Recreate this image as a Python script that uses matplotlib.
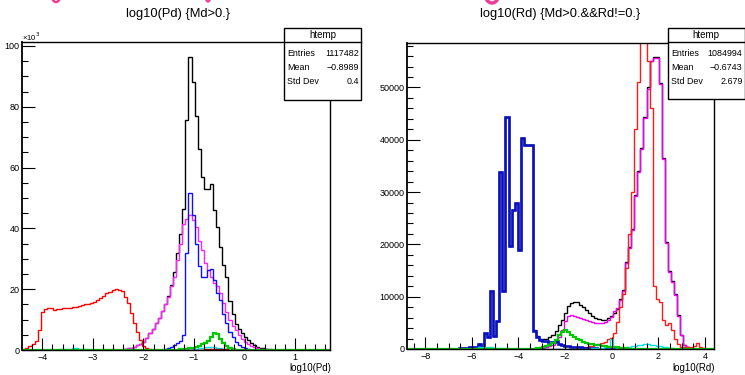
import numpy as np
import matplotlib
matplotlib.use('Agg')
import matplotlib.pyplot as plt
from matplotlib.patches import Rectangle, Ellipse
from matplotlib.lines import Line2D
from matplotlib.ticker import MultipleLocator, FuncFormatter

plt.rcParams['font.family'] = ['Liberation Sans', 'DejaVu Sans']

W, H = 745, 375
NBINS = 100

# ---- left panel: log10(Pd), 100 bins, counts in thousands ----
left_range = (-4.395, 1.69)
left_black = (33, [0.3, 0.5, 0.8, 1.1, 1.5, 2.0, 2.7, 3.8, 5.5, 7.0,
                   8.8, 10.5, 12.8, 15.0, 17.6, 21.5, 25.5, 32.0, 38.0, 46.5,
                   75.7, 96.5, 88.0, 77.0, 66.0, 57.0, 53.0, 53.0, 54.5, 46.0,
                   40.5, 34.0, 28.0, 24.0, 16.0, 12.0, 8.5, 7.0, 5.5, 4.2,
                   3.2, 2.2, 1.5, 1.0, 0.7, 0.5, 0.3, 0.2, 0.1])
left_magenta = (33, [0.3, 0.5, 0.8, 1.1, 1.5, 2.0, 2.7, 3.8, 5.5, 7.0,
                     8.8, 10.5, 12.8, 15.0, 17.5, 21.0, 24.0, 29.5, 35.0, 41.5,
                     43.0, 44.4, 42.8, 40.6, 36.0, 33.0, 28.5, 26.3, 24.1, 22.0,
                     21.0, 18.6, 15.3, 12.5, 10.0, 8.0, 6.5, 5.0, 3.5, 2.7,
                     2.0, 1.4, 1.0, 0.6, 0.4, 0.3, 0.2, 0.1])
left_blue = (46, [0.2, 0.5, 1.0, 1.5, 2.2, 3.0, 5.0, 32.0, 51.5, 44.5,
                  35.0, 27.5, 24.0, 24.0, 26.3, 26.8, 23.0, 18.7, 16.4, 12.0,
                  8.8, 6.0, 4.4, 2.7, 1.6, 1.0, 0.5, 0.2])
left_red = (0, [0.3, 0.8, 1.3, 2.0, 3.0, 6.5, 12.5, 13.6, 13.8, 13.7,
                13.2, 13.4, 13.6, 13.7, 13.8, 13.9, 14.1, 14.3, 14.6, 14.8,
                15.0, 15.1, 15.3, 15.9, 16.4, 17.0, 17.8, 18.6, 19.1, 19.6,
                20.0, 19.8, 19.3, 17.5, 15.3, 12.1, 9.0, 6.0, 3.3, 1.2,
                0.5, 0.2])
left_cyan_a = (12, [0.2, 0.3, 0.4, 0.4, 0.5, 0.5, 0.4, 0.3, 0.2])
left_cyan_b = (55, [0.2, 0.4, 0.6, 0.8, 0.9, 1.0, 1.0, 0.9, 0.8, 0.6, 0.4, 0.2])
left_darkred = (58, [0.1, 0.2, 0.3, 0.3, 0.4, 0.4, 0.3, 0.3, 0.2, 0.1])
left_green = (50, [0.1, 0.2, 0.3, 0.4, 0.5, 0.7, 1.0, 1.4, 1.9, 2.4,
                   3.0, 4.3, 5.6, 5.4, 3.6, 2.2, 1.3, 0.6, 0.3, 0.1])
left_stats = ['1117482', '\u22120.8989', '0.4']

# ---- right panel: log10(Rd), 100 bins, counts in thousands ----
right_range = (-8.77, 4.39)
right_black = (17, [0.1, 0.2, 0.2, 0.3, 0.4, 0.4, 0.9, 0.4, 3.0, 2.2,
                    11.0, 2.5, 5.4, 33.9, 11.0, 44.3, 19.6, 26.6, 27.9, 18.9,
                    40.3, 39.0, 39.0, 39.0, 3.6, 2.4, 2.0, 1.9, 2.0, 2.2,
                    2.6, 3.5, 4.6, 5.5, 6.9, 8.2, 8.7, 9.0, 8.9, 8.4,
                    8.0, 7.5, 6.9, 6.3, 6.0, 5.8, 5.5, 5.6, 5.9, 6.3,
                    6.8, 7.7, 9.5, 11.3, 16.7, 19.5, 23.0, 29.5, 34.0, 38.5,
                    44.4, 50.0, 55.1, 55.8, 55.8, 50.8, 36.5, 20.5, 15.0, 13.0,
                    10.5, 6.5, 2.7, 0.8, 0.3, 0.15])
right_magenta = (44, [0.2, 0.3, 0.5, 0.8, 1.3, 2.3, 3.7, 5.3, 6.3, 6.5,
                      6.4, 6.2, 6.0, 5.8, 5.6, 5.3, 5.1, 5.0, 4.9, 5.0,
                      5.2, 5.6, 6.2, 7.2, 7.8, 9.4, 11.0, 16.5, 19.3, 22.8,
                      29.3, 33.8, 38.3, 44.2, 49.8, 55.0, 55.6, 55.6, 50.6, 36.3,
                      20.3, 14.8, 12.8, 10.3, 6.4, 2.6, 0.8, 0.3, 0.1])
right_red = (55, [0.1, 0.2, 0.3, 0.4, 0.5, 0.6, 0.8, 1.0, 1.2, 1.4,
                  1.9, 2.1, 3.0, 5.2, 8.1, 10.5, 15.5, 22.0, 30.0, 42.0,
                  51.0, 61.0, 62.0, 55.0, 46.0, 12.0, 9.5, 9.0, 5.5, 4.6,
                  5.0, 3.6, 2.0, 0.9, 0.4, 0.4, 0.3, 0.4, 0.6, 1.1,
                  0.4, 0.1])
right_blue = (17, [0.1, 0.2, 0.2, 0.3, 0.4, 0.4, 0.9, 0.4, 3.0, 2.2,
                   11.0, 2.5, 5.4, 33.9, 11.0, 44.3, 19.6, 26.6, 27.9, 18.9,
                   40.3, 39.0, 39.0, 39.0, 3.4, 2.2, 1.8, 1.6, 1.5, 1.3,
                   1.4, 1.6, 1.0, 0.7, 0.6, 0.5, 0.4, 0.4, 0.3, 0.3,
                   0.2, 0.2, 0.2, 0.1, 0.1])
right_cyan_a = (22, [0.2, 0.3, 0.3, 0.3, 0.3, 0.3, 0.2, 0.2, 0.2, 0.1])
right_cyan_b = (60, [0.1, 0.2, 0.2, 0.2, 0.3, 0.3, 2.0, 0.3, 0.2, 0.2,
                     0.2, 0.3, 0.4, 0.5, 0.6, 0.7, 0.8, 0.9, 0.9, 0.8,
                     0.7, 0.6, 0.5, 0.4, 0.3, 0.2, 0.1])
right_green = (42, [0.1, 0.2, 0.3, 0.5, 0.8, 1.2, 1.8, 2.7, 3.3, 3.7,
                    3.3, 2.7, 2.3, 2.0, 1.7, 1.4, 1.2, 1.0, 0.9, 0.8,
                    0.7, 0.6, 0.5, 0.4, 0.4, 0.3, 0.3, 0.2, 0.2, 0.1])
right_stats = ['1084994', '\u22120.6743', '2.679']

stat_names = ['Entries', 'Mean', 'Std Dev']


def fill_bins(*segments):
    out = np.zeros(NBINS)
    for start, vals in segments:
        out[start:start + len(vals)] = vals
    return out


def fx(px):
    return px / W


def fy(py):
    return 1 - py / H


def frame(px0, py0, px1, py1):
    return [fx(px0), fy(py1), (px1 - px0) / W, (py1 - py0) / H]


def style_axis(ax, xmajor, xminor, ymajor, yminor):
    ax.xaxis.set_major_locator(MultipleLocator(xmajor))
    ax.xaxis.set_minor_locator(MultipleLocator(xminor))
    ax.yaxis.set_major_locator(MultipleLocator(ymajor))
    ax.yaxis.set_minor_locator(MultipleLocator(yminor))
    ax.tick_params(which='major', direction='in', length=9, width=0.8,
                   labelsize=6.5, pad=2, top=False, right=False)
    ax.tick_params(which='minor', direction='in', length=4.5, width=0.8,
                   top=False, right=False)
    for s in ax.spines.values():
        s.set_linewidth(1.0)
    ax.spines['left'].set_linewidth(1.3)
    ax.xaxis.set_major_formatter(FuncFormatter(
        lambda v, p: ('%g' % v).replace('-', '\u2212')))


def stats_box(px0, px1, py0, py1, values):
    fig.add_artist(Rectangle((fx(px0), fy(py1)), (px1 - px0) / W, (py1 - py0) / H,
                             transform=fig.transFigure, facecolor='white',
                             edgecolor='black', lw=1.0, zorder=10))
    fig.add_artist(Line2D([fx(px0), fx(px1)], [fy(42), fy(42)],
                          transform=fig.transFigure, color='black', lw=1.0, zorder=11))
    fig.text(fx((px0 + px1) / 2), fy(35), 'htemp', ha='center', va='center',
             fontsize=7, zorder=12)
    for i, (name, val) in enumerate(zip(stat_names, values)):
        yy = fy(53 + 14.5 * i)
        fig.text(fx(px0 + 3), yy, name, ha='left', va='center', fontsize=6.4, zorder=12)
        fig.text(fx(px1 - 2), yy, val, ha='right', va='center', fontsize=6.4, zorder=12)


fig = plt.figure(figsize=(W / 100, H / 100), dpi=100)

# left
axL = fig.add_axes(frame(22.3, 42, 330, 350))
edgesL = np.linspace(left_range[0], left_range[1], NBINS + 1)
axL.stairs(fill_bins(left_black), edgesL, color='black', lw=1.0)
axL.stairs(fill_bins(left_magenta), edgesL, color='#ff22ff', lw=1.0)
axL.stairs(fill_bins(left_blue), edgesL, color='#1010ff', lw=1.0)
axL.stairs(fill_bins(left_red), edgesL, color='#ff0000', lw=1.0)
axL.stairs(fill_bins(left_cyan_a, left_cyan_b), edgesL, color='#00e5e5', lw=1.0)
axL.stairs(fill_bins(left_darkred), edgesL, color='#990000', lw=1.0)
axL.stairs(fill_bins(left_green), edgesL, color='#00c800', lw=1.6)
axL.set_xlim(*left_range)
axL.set_ylim(0, 101.3)
style_axis(axL, 1, 0.2, 20, 5)

# right
axR = fig.add_axes(frame(407.3, 42.7, 714, 349))
edgesR = np.linspace(right_range[0], right_range[1], NBINS + 1)
axR.stairs(fill_bins(right_black) * 1000, edgesR, color='black', lw=1.0)
axR.stairs(fill_bins(right_magenta) * 1000, edgesR, color='#ee00ee', lw=1.0)
axR.stairs(fill_bins(right_red) * 1000, edgesR, color='#ff1a1a', lw=1.0)
axR.stairs(fill_bins(right_blue) * 1000, edgesR, color='#0a10c0', lw=1.9)
axR.stairs(fill_bins(right_cyan_a, right_cyan_b) * 1000, edgesR, color='#00e5e5', lw=1.0)
axR.stairs(fill_bins(right_green) * 1000, edgesR, color='#00c800', lw=1.6)
axR.set_xlim(*right_range)
axR.set_ylim(0, 58560)
style_axis(axR, 2, 0.5, 10000, 2000)

# titles and labels
fig.text(fx(178), fy(14), 'log10(Pd) {Md>0.}', ha='center', va='center', fontsize=9.3)
fig.text(fx(560), fy(14), 'log10(Rd) {Md>0.&&Rd!=0.}', ha='center', va='center', fontsize=9.3)
fig.text(fx(331), fy(368), 'log10(Pd)', ha='right', va='center', fontsize=7)
fig.text(fx(715), fy(368), 'log10(Rd)', ha='right', va='center', fontsize=7)
fig.text(fx(22), fy(37), '\u00d710$^3$', ha='left', va='center', fontsize=5.5)

stats_box(284, 361, 28, 100, left_stats)
stats_box(668, 744.5, 28, 99, right_stats)

# pink fragments of the slide heading cut at the top edge
pink = '#ee3d96'
fig.add_artist(Ellipse((fx(56), fy(-2)), 7 / W, 8 / H, transform=fig.transFigure,
                       facecolor='none', edgecolor=pink, lw=1.8))
fig.add_artist(Ellipse((fx(208), fy(-2)), 4 / W, 7 / H, transform=fig.transFigure,
                       facecolor='none', edgecolor=pink, lw=1.6))
fig.add_artist(Ellipse((fx(492), fy(-8)), 15 / W, 22 / H, transform=fig.transFigure,
                       facecolor='none', edgecolor=pink, lw=2.5))

fig.savefig('out.png', dpi=100)
